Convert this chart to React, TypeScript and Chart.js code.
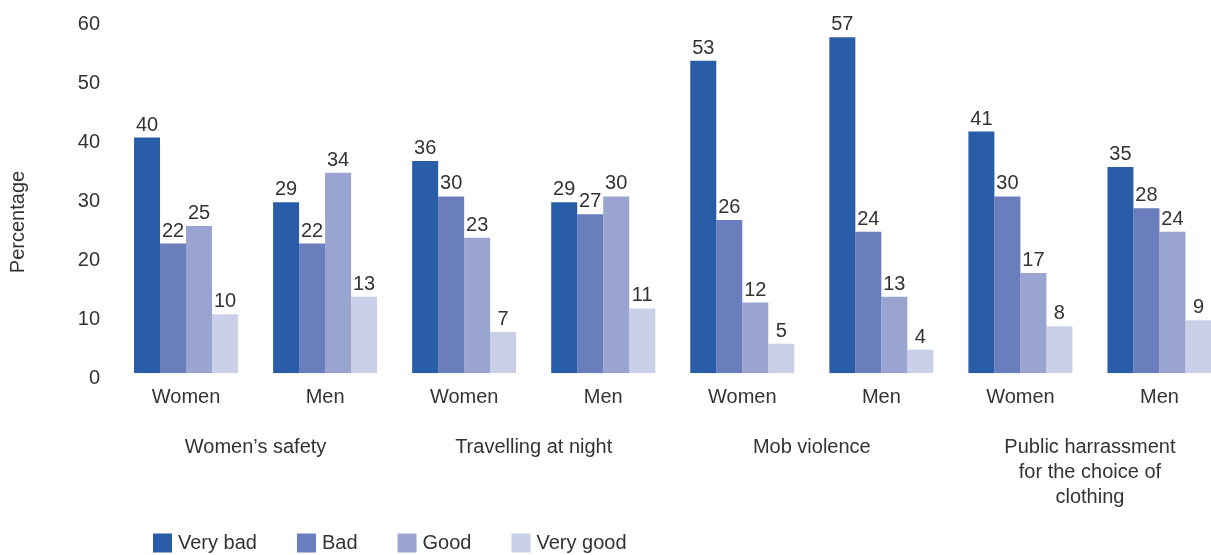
import React, { useEffect, useRef } from "react";
import { Chart, registerables } from "chart.js";

Chart.register(...registerables);

// Survey categories (two genders per topic)
const categories = ["Women", "Men", "Women", "Men", "Women", "Men", "Women", "Men"];
const groupLabels: (string | string[])[] = [
  "Women’s safety",
  "Travelling at night",
  "Mob violence",
  ["Public harrassment", "for the choice of", "clothing"],
];
const seriesNames = ["Very bad", "Bad", "Good", "Very good"];

// Percentages per rating
const veryBad = [40, 29, 36, 29, 53, 57, 41, 35];
const bad = [22, 22, 30, 27, 26, 24, 30, 28];
const good = [25, 34, 23, 30, 12, 13, 17, 24];
const veryGood = [10, 13, 7, 11, 5, 4, 8, 9];

const yMin = 0;
const yMax = 60;
const yStep = 10;
const yTitle = "Percentage";

const colors = ["#295DA8", "#6A7DBC", "#99A4D0", "#CBD0E9"];
const FONT = "'Liberation Sans', Arial, sans-serif";
const TEXT = "#333333";

// Value labels above each bar, positioned from the bar elements
const valueLabels = {
  id: "valueLabels",
  afterDatasetsDraw(chart: Chart) {
    const ctx = chart.ctx;
    ctx.save();
    ctx.font = `20px ${FONT}`;
    ctx.fillStyle = TEXT;
    ctx.textAlign = "center";
    ctx.textBaseline = "alphabetic";
    chart.data.datasets.forEach((ds, di) => {
      const meta = chart.getDatasetMeta(di);
      meta.data.forEach((el: any, i: number) => {
        ctx.fillText(String(ds.data[i]), el.x, el.y - 7);
      });
    });
    ctx.restore();
  },
};

// Rotated y-axis title
const yAxisTitle = {
  id: "yAxisTitle",
  afterDraw(chart: Chart) {
    const ctx = chart.ctx;
    ctx.save();
    ctx.font = `20px ${FONT}`;
    ctx.fillStyle = TEXT;
    ctx.textAlign = "center";
    ctx.textBaseline = "middle";
    ctx.translate(18, 222);
    ctx.rotate(-Math.PI / 2);
    ctx.fillText(yTitle, 0, 0);
    ctx.restore();
  },
};

// Legend row along the bottom edge
const bottomLegend = {
  id: "bottomLegend",
  afterDraw(chart: Chart) {
    const ctx = chart.ctx;
    ctx.save();
    ctx.font = `20px ${FONT}`;
    ctx.textAlign = "left";
    ctx.textBaseline = "middle";
    const box = 19;
    const cy = 543;
    let x = 153;
    chart.data.datasets.forEach((ds) => {
      ctx.fillStyle = ds.backgroundColor as string;
      ctx.fillRect(x, cy - box / 2, box, box);
      const tx = x + box + 6;
      ctx.fillStyle = TEXT;
      const label = ds.label ?? "";
      ctx.fillText(label, tx, cy);
      x = tx + ctx.measureText(label).width + 40;
    });
    ctx.restore();
  },
};

export default function App() {
  const canvasRef = useRef<HTMLCanvasElement | null>(null);

  useEffect(() => {
    if (!canvasRef.current) return;
    const series = [veryBad, bad, good, veryGood];
    const chart = new Chart(canvasRef.current, {
      type: "bar",
      data: {
        labels: categories,
        datasets: series.map((d, i) => ({
          label: seriesNames[i],
          data: d,
          backgroundColor: colors[i],
          borderWidth: 0,
          barPercentage: 1,
          categoryPercentage: 0.748,
        })),
      },
      plugins: [valueLabels, yAxisTitle, bottomLegend],
      options: {
        responsive: false,
        animation: false,
        layout: { padding: { top: 19.6, left: 0, right: 0, bottom: 0 } },
        font: { family: FONT, size: 20 },
        scales: {
          x: {
            type: "category",
            position: "bottom",
            weight: 0,
            offset: true,
            grid: { display: false, drawTicks: false },
            border: { display: false },
            ticks: { color: TEXT, font: { family: FONT, size: 20 }, padding: 11.7, maxRotation: 0, autoSkip: false },
          },
          x2: {
            type: "category",
            position: "bottom",
            weight: 1,
            offset: true,
            labels: groupLabels as any,
            grid: { display: false, drawTicks: false },
            border: { display: false },
            ticks: {
              color: TEXT,
              font: { family: FONT, size: 20, lineHeight: 1.25 },
              padding: 13.8,
              maxRotation: 0,
              autoSkip: false,
            },
            afterFit(scale: any) {
              scale.height = 134.3;
            },
          },
          y: {
            type: "linear",
            min: yMin,
            max: yMax,
            grid: { display: false, drawTicks: false },
            border: { display: false },
            ticks: {
              stepSize: yStep,
              color: TEXT,
              font: { family: FONT, size: 20 },
              padding: 16.5,
              labelOffset: 5,
            },
            afterFit(scale: any) {
              scale.width = 116.5;
              scale.paddingTop = 0;
              scale.paddingBottom = 0;
            },
          },
        },
        plugins: {
          legend: { display: false },
          tooltip: { enabled: false },
          title: { display: false },
        },
      },
    });
    return () => chart.destroy();
  }, []);

  return (
    <div
      style={{
        position: "fixed",
        left: 0,
        top: 0,
        width: 1211,
        height: 555,
        overflow: "hidden",
        background: "#ffffff",
      }}
    >
      <canvas ref={canvasRef} width={1229} height={555} style={{ display: "block" }} />
    </div>
  );
}
